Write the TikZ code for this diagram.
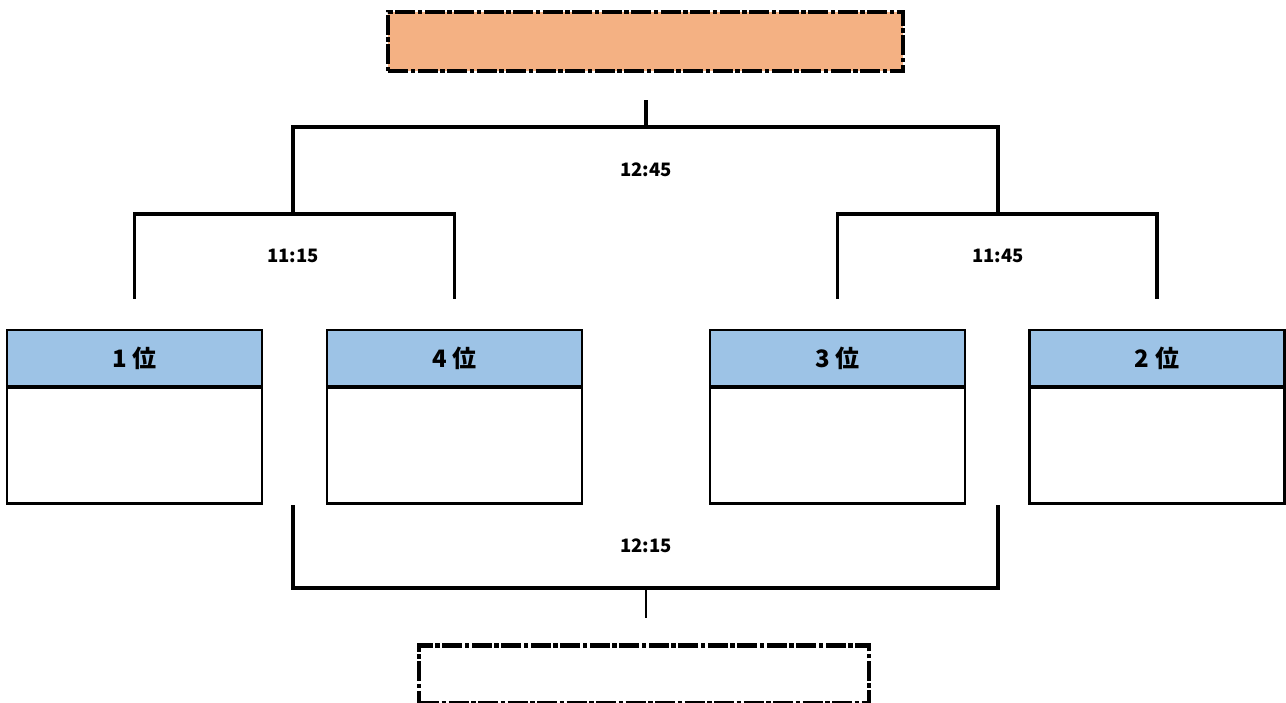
\documentclass[tikz,border=0pt]{standalone}
\usepackage{fontspec}
\setmainfont{Noto Sans CJK JP}
\usetikzlibrary{positioning}

\tikzset{
  bracket/.style={line width=3.5pt},
  timelabel/.style={font=\fontsize{18.5}{20}\selectfont\bfseries},
  rankhead/.style={draw, line width=2.5pt, fill=headblue, minimum width=255pt, minimum height=56pt, inner sep=0pt, font=\fontsize{24}{28}\selectfont\bfseries},
  rankbody/.style={draw, line width=2.5pt, fill=white, minimum width=255pt, minimum height=116pt, inner sep=0pt},
  resultbox/.style={draw, line width=4.5pt, dash pattern=on 20pt off 2.5pt on 4.5pt off 2.5pt, inner sep=0pt}
}
\definecolor{headblue}{HTML}{9DC3E6}
\definecolor{champorange}{HTML}{F4B183}

\begin{document}
\begin{tikzpicture}[x=1pt, y=-1pt]
\useasboundingbox (0,0) rectangle (1286,702);

\node[resultbox, fill=champorange, minimum width=515pt, minimum height=59pt] (champ) at (645.5,41.5) {};
\node[resultbox, minimum width=450pt, minimum height=57.5pt] (third) at (644,674) {};

\node[rankhead] (h1) at (134.5,358) {1 位};
\node[rankbody, below=-1.25pt of h1] (b1) {};
\node[rankhead] (h4) at (454.5,358) {4 位};
\node[rankbody, below=-1.25pt of h4] (b4) {};
\node[rankhead] (h3) at (837.5,358) {3 位};
\node[rankbody, below=-1.25pt of h3] (b3) {};
\node[rankhead] (h2) at (1157,358) {2 位};
\node[rankbody, below=-1.25pt of h2] (b2) {};

\coordinate (q1) at ([yshift=30pt]h1.north);
\coordinate (q4) at ([yshift=30pt]h4.north);
\coordinate (q3) at ([yshift=30pt]h3.north);
\coordinate (q2) at ([yshift=30pt]h2.north);
\coordinate (semiL) at (293,214);
\coordinate (semiR) at (998,214);
\coordinate (finalJ) at (646,127);
\coordinate (finalS) at (646,100);
\coordinate (thirdL) at (293,505);
\coordinate (thirdR) at (998,505);
\coordinate (thirdJ) at (646,588);
\coordinate (thirdS) at (646,618);

\draw[bracket] (q1) |- (semiL) -| (q4);
\draw[bracket] (q3) |- (semiR) -| (q2);
\draw[bracket] (semiL) |- (finalJ) -| (semiR);
\draw[bracket] (finalJ) -- (finalS);
\draw[bracket] (thirdL) |- (thirdJ) -| (thirdR);
\draw[line width=1.5pt] (thirdJ) -- (thirdS);

\node[timelabel] (t1) at (293,256) {11:15};
\node[timelabel] (t2) at (998,256) {11:45};
\node[timelabel] (t3) at (646,170) {12:45};
\node[timelabel] (t4) at (646,546) {12:15};
\end{tikzpicture}
\end{document}
